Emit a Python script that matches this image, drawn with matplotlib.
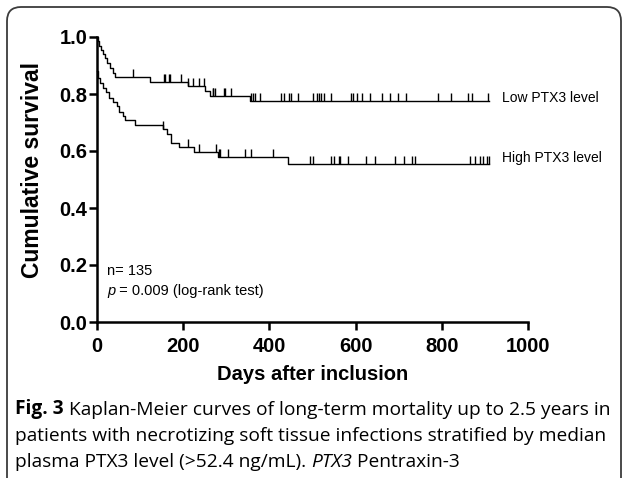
import numpy as np
import matplotlib
matplotlib.use("Agg")
import matplotlib.pyplot as plt
from matplotlib.path import Path
from matplotlib.patches import FancyBboxPatch
from matplotlib.transforms import IdentityTransform

# ---- data ----
low_times = [0, 2, 5, 9, 14, 19, 24, 30, 36, 41, 122, 210, 250, 262, 356]
low_surv = [1.0, 0.985, 0.97, 0.955, 0.94, 0.925, 0.91, 0.89, 0.875, 0.859,
            0.843, 0.828, 0.812, 0.794, 0.775]
low_end = 910
low_censor = [84, 156, 158, 167, 170, 196, 212, 223, 237, 249, 268, 270, 274,
              294, 297, 312, 357, 361, 367, 379, 428, 433, 445, 450, 467, 501,
              510, 515, 520, 526, 544, 590, 594, 604, 615, 634, 661, 679, 698,
              718, 791, 822, 861, 869, 908]

high_times = [0, 3, 8, 14, 20, 29, 36, 46, 52, 60, 64, 89, 152, 163, 171, 191,
              226, 280, 442]
high_surv = [0.88, 0.855, 0.837, 0.82, 0.808, 0.785, 0.773, 0.758, 0.738,
             0.723, 0.709, 0.691, 0.676, 0.66, 0.627, 0.613, 0.595, 0.578, 0.555]
high_end = 910
high_censor = [152, 212, 236, 277, 282, 285, 305, 343, 357, 408, 495, 501, 543,
               549, 561, 564, 582, 623, 646, 692, 712, 731, 737, 865, 877, 888,
               896, 904, 909]

group_labels = ["Low PTX3 level", "High PTX3 level"]
x_ticks = [0, 200, 400, 600, 800, 1000]
y_ticks = [0.0, 0.2, 0.4, 0.6, 0.8, 1.0]

caption_bold = "Fig. 3"
caption_line1 = " Kaplan-Meier curves of long-term mortality up to 2.5 years in"
caption_line2 = "patients with necrotizing soft tissue infections stratified by median"
caption_line3a = "plasma PTX3 level (>52.4 ng/mL). "
caption_line3b = "PTX3"
caption_line3c = " Pentraxin-3"

# ---- figure ----
W, H = 627, 478
fig = plt.figure(figsize=(W / 100, H / 100), dpi=100)
fig.patch.set_facecolor("white")

# rounded frame
frame = FancyBboxPatch((7, -40), 614, 511, boxstyle="round,pad=0,rounding_size=14",
                       transform=IdentityTransform(), fill=False,
                       edgecolor="#3c3c3c", linewidth=1.3)
fig.patches.append(frame)

ax = fig.add_axes([97 / W, 1 - 322 / H, (528 - 97) / W, (322 - 37) / H])
chart_font = "Liberation Sans"

def step_value(times, surv, t):
    idx = np.searchsorted(times, t, side="right") - 1
    return np.asarray(surv)[idx]

tick_marker = Path([(0, 0), (0, 1)], [Path.MOVETO, Path.LINETO])

for times, surv, end, cens in [(low_times, low_surv, low_end, low_censor),
                               (high_times, high_surv, high_end, high_censor)]:
    xs = np.append(times, end)
    ys = np.append(surv, surv[-1])
    ax.step(xs, ys, where="post", color="black", linewidth=1.0, clip_on=False)
    cy = step_value(times, surv, np.array(cens))
    ax.plot(cens, cy, linestyle="none", marker=tick_marker, markersize=11.5,
            markeredgewidth=1.0, color="black", clip_on=False)

ax.text(940, low_surv[-1] + 0.01, group_labels[0], fontsize=10,
        family=chart_font, va="center", ha="left")
ax.text(940, high_surv[-1] + 0.02, group_labels[1], fontsize=10,
        family=chart_font, va="center", ha="left")

ax.text(23, 0.18, "n= 135", fontsize=10.5, family=chart_font, va="center")
tp = ax.text(23, 0.11, "p", fontsize=10.5, family=chart_font, style="italic",
             va="center")
ax.annotate(" = 0.009 (log-rank test)", xy=(1, 0), xycoords=tp, fontsize=10.5,
            family=chart_font, va="bottom", ha="left")

ax.set_xlim(0, 1000)
ax.set_ylim(0, 1.0)
ax.set_xticks(x_ticks)
ax.set_yticks(y_ticks)
ax.set_xticklabels([str(v) for v in x_ticks], fontsize=14.5, fontweight="bold",
                   family=chart_font)
ax.set_yticklabels([f"{v:.1f}" for v in y_ticks], fontsize=14.5,
                   fontweight="bold", family=chart_font)
ax.set_xlabel("Days after inclusion", fontsize=14.5, fontweight="bold",
              family=chart_font, labelpad=7)
ax.set_ylabel("Cumulative survival", fontsize=16.5, fontweight="bold",
              family=chart_font)
ax.yaxis.set_label_coords(-0.124, 0.535)
for s in ["top", "right"]:
    ax.spines[s].set_visible(False)
for s in ["left", "bottom"]:
    ax.spines[s].set_linewidth(1.8)
ax.tick_params(width=1.8, length=5.5)
ax.tick_params(axis="y", pad=1.5)
ax.tick_params(axis="x", pad=5)
ax.patch.set_alpha(0)

# caption
cap_font = "Open Sans"
cap_size = 13.8
t1 = fig.text(15 / W, 1 - 409 / H, caption_bold, fontsize=cap_size,
              family=cap_font, fontweight="bold", va="center", ha="left")
fig.add_artist(plt.Annotation(caption_line1, xy=(1, 0), xycoords=t1,
                              fontsize=cap_size, family=cap_font,
                              va="bottom", ha="left"))
fig.text(15 / W, 1 - 436 / H, caption_line2, fontsize=cap_size,
         family=cap_font, va="center", ha="left")
t3 = fig.text(15 / W, 1 - 462 / H, caption_line3a, fontsize=cap_size,
              family=cap_font, va="center", ha="left")
t3b = fig.add_artist(plt.Annotation(caption_line3b, xy=(1, 0), xycoords=t3,
                                    fontsize=cap_size, family=cap_font,
                                    style="italic", va="bottom", ha="left"))
fig.add_artist(plt.Annotation(caption_line3c, xy=(1, 0), xycoords=t3b,
                              fontsize=cap_size, family=cap_font,
                              va="bottom", ha="left"))

fig.savefig("out.png", dpi=100)
